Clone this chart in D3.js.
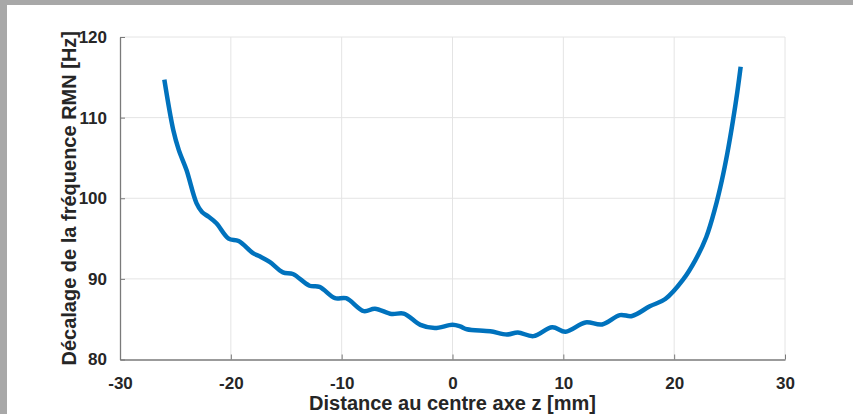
<!DOCTYPE html>
<html>
<head>
<meta charset="utf-8">
<script src="https://cdn.jsdelivr.net/npm/d3@7"></script>
<style>
  body { margin: 0; background: #fff; }
  svg { display: block; }
  .tick text { font-family: "Liberation Sans", Arial, sans-serif; font-weight: bold; font-size: 17px; fill: #262626; }
  .axis-label { font-family: "Liberation Sans", Arial, sans-serif; font-weight: bold; font-size: 20px; fill: #262626; }
</style>
</head>
<body>
<div id="chart-area"></div>
<script>
// distance from the centre along z (mm) and NMR frequency shift (Hz)
var distance = [-26, -25.2, -24.7, -24.0, -23.1, -22.6, -22.0, -21.3, -20.2, -19.3, -18.0, -17.4, -16.5,
                -15.3, -14.4, -12.9, -12.0, -10.6, -9.6, -8.0, -7.0, -5.5, -4.4, -2.9, -1.6, 0.0, 0.7,
                1.3, 3.4, 4.9, 5.9, 7.3, 9.0, 10.2, 12.0, 13.5, 15.1, 16.2, 17.8, 19.2, 20.8, 21.9,
                22.9, 23.7, 24.3, 24.8, 25.3, 25.7, 26.0];
var shift = [114.7, 108.5, 106.0, 103.5, 99.4, 98.3, 97.7, 96.9, 95.0, 94.7, 93.2, 92.8, 92.1,
             90.8, 90.6, 89.15, 89.0, 87.6, 87.6, 86.0, 86.3, 85.65, 85.7, 84.3, 83.9, 84.3, 84.1,
             83.75, 83.5, 83.1, 83.35, 82.9, 84.0, 83.45, 84.6, 84.35, 85.5, 85.4, 86.6, 87.5, 89.9, 92.3,
             95.2, 98.8, 102.2, 105.6, 109.6, 113.2, 116.3];
var xTicks = [-30, -20, -10, 0, 10, 20, 30];
var yTicks = [80, 90, 100, 110, 120];

var W = 853, H = 414;
var margin = { left: 120, right: 68, top: 37, bottom: 54.5 };
var width = W - margin.left - margin.right;
var height = H - margin.top - margin.bottom;

var root = d3.select("#chart-area").append("svg")
    .attr("width", W)
    .attr("height", H);

// grey frame of the screenshot
root.append("rect").attr("x", 0).attr("y", 0).attr("width", W).attr("height", 5).attr("fill", "#a8a8a8");
root.append("rect").attr("x", 0).attr("y", 0).attr("width", 7).attr("height", H).attr("fill", "#a8a8a8");

var svg = root.append("g")
    .attr("transform", "translate(" + margin.left + "," + margin.top + ")");

var x = d3.scaleLinear().domain([-30, 30]).range([0, width]);
var y = d3.scaleLinear().domain([80, 120]).range([height, 0]);

// grid
svg.append("g").selectAll("line")
    .data(xTicks.slice(1))
  .enter().append("line")
    .attr("x1", d => x(d)).attr("x2", d => x(d))
    .attr("y1", 0).attr("y2", height)
    .attr("stroke", "#e4e4e4").attr("stroke-width", 1);
svg.append("g").selectAll("line")
    .data(yTicks.slice(1))
  .enter().append("line")
    .attr("x1", 0).attr("x2", width)
    .attr("y1", d => y(d)).attr("y2", d => y(d))
    .attr("stroke", "#e4e4e4").attr("stroke-width", 1);

// axes (plain hyphen for negatives, like the original)
var fmt = d => String(d);
var xAxis = svg.append("g")
    .attr("transform", "translate(0," + height + ")")
    .call(d3.axisBottom(x).tickValues(xTicks).tickFormat(fmt).tickSizeInner(-5).tickSizeOuter(0).tickPadding(17));
var yAxis = svg.append("g")
    .call(d3.axisLeft(y).tickValues(yTicks).tickFormat(fmt).tickSizeInner(-5).tickSizeOuter(0).tickPadding(13));

[xAxis, yAxis].forEach(function(a){
    a.select(".domain").attr("stroke", "#7a7a7a").attr("stroke-width", 1.3);
    a.selectAll(".tick line").attr("stroke", "#7a7a7a");
    a.attr("font-size", null).attr("font-family", null);
});

// curve
var line = d3.line()
    .x((d, i) => x(distance[i]))
    .y(d => y(d))
    .curve(d3.curveCatmullRom);

svg.append("path")
    .datum(shift)
    .attr("d", line)
    .attr("fill", "none")
    .attr("stroke", "#0072BD")
    .attr("stroke-width", 4.5)
    .attr("stroke-linejoin", "round");

// labels
svg.append("text")
    .attr("class", "axis-label")
    .attr("x", width / 2)
    .attr("y", height + 50)
    .attr("text-anchor", "middle")
    .text("Distance au centre axe z [mm]");

svg.append("text")
    .attr("class", "axis-label")
    .attr("transform", "translate(" + (-44) + "," + (height / 2) + ") rotate(-90)")
    .attr("text-anchor", "middle")
    .text("Décalage de la fréquence RMN [Hz]");
</script>
</body>
</html>
